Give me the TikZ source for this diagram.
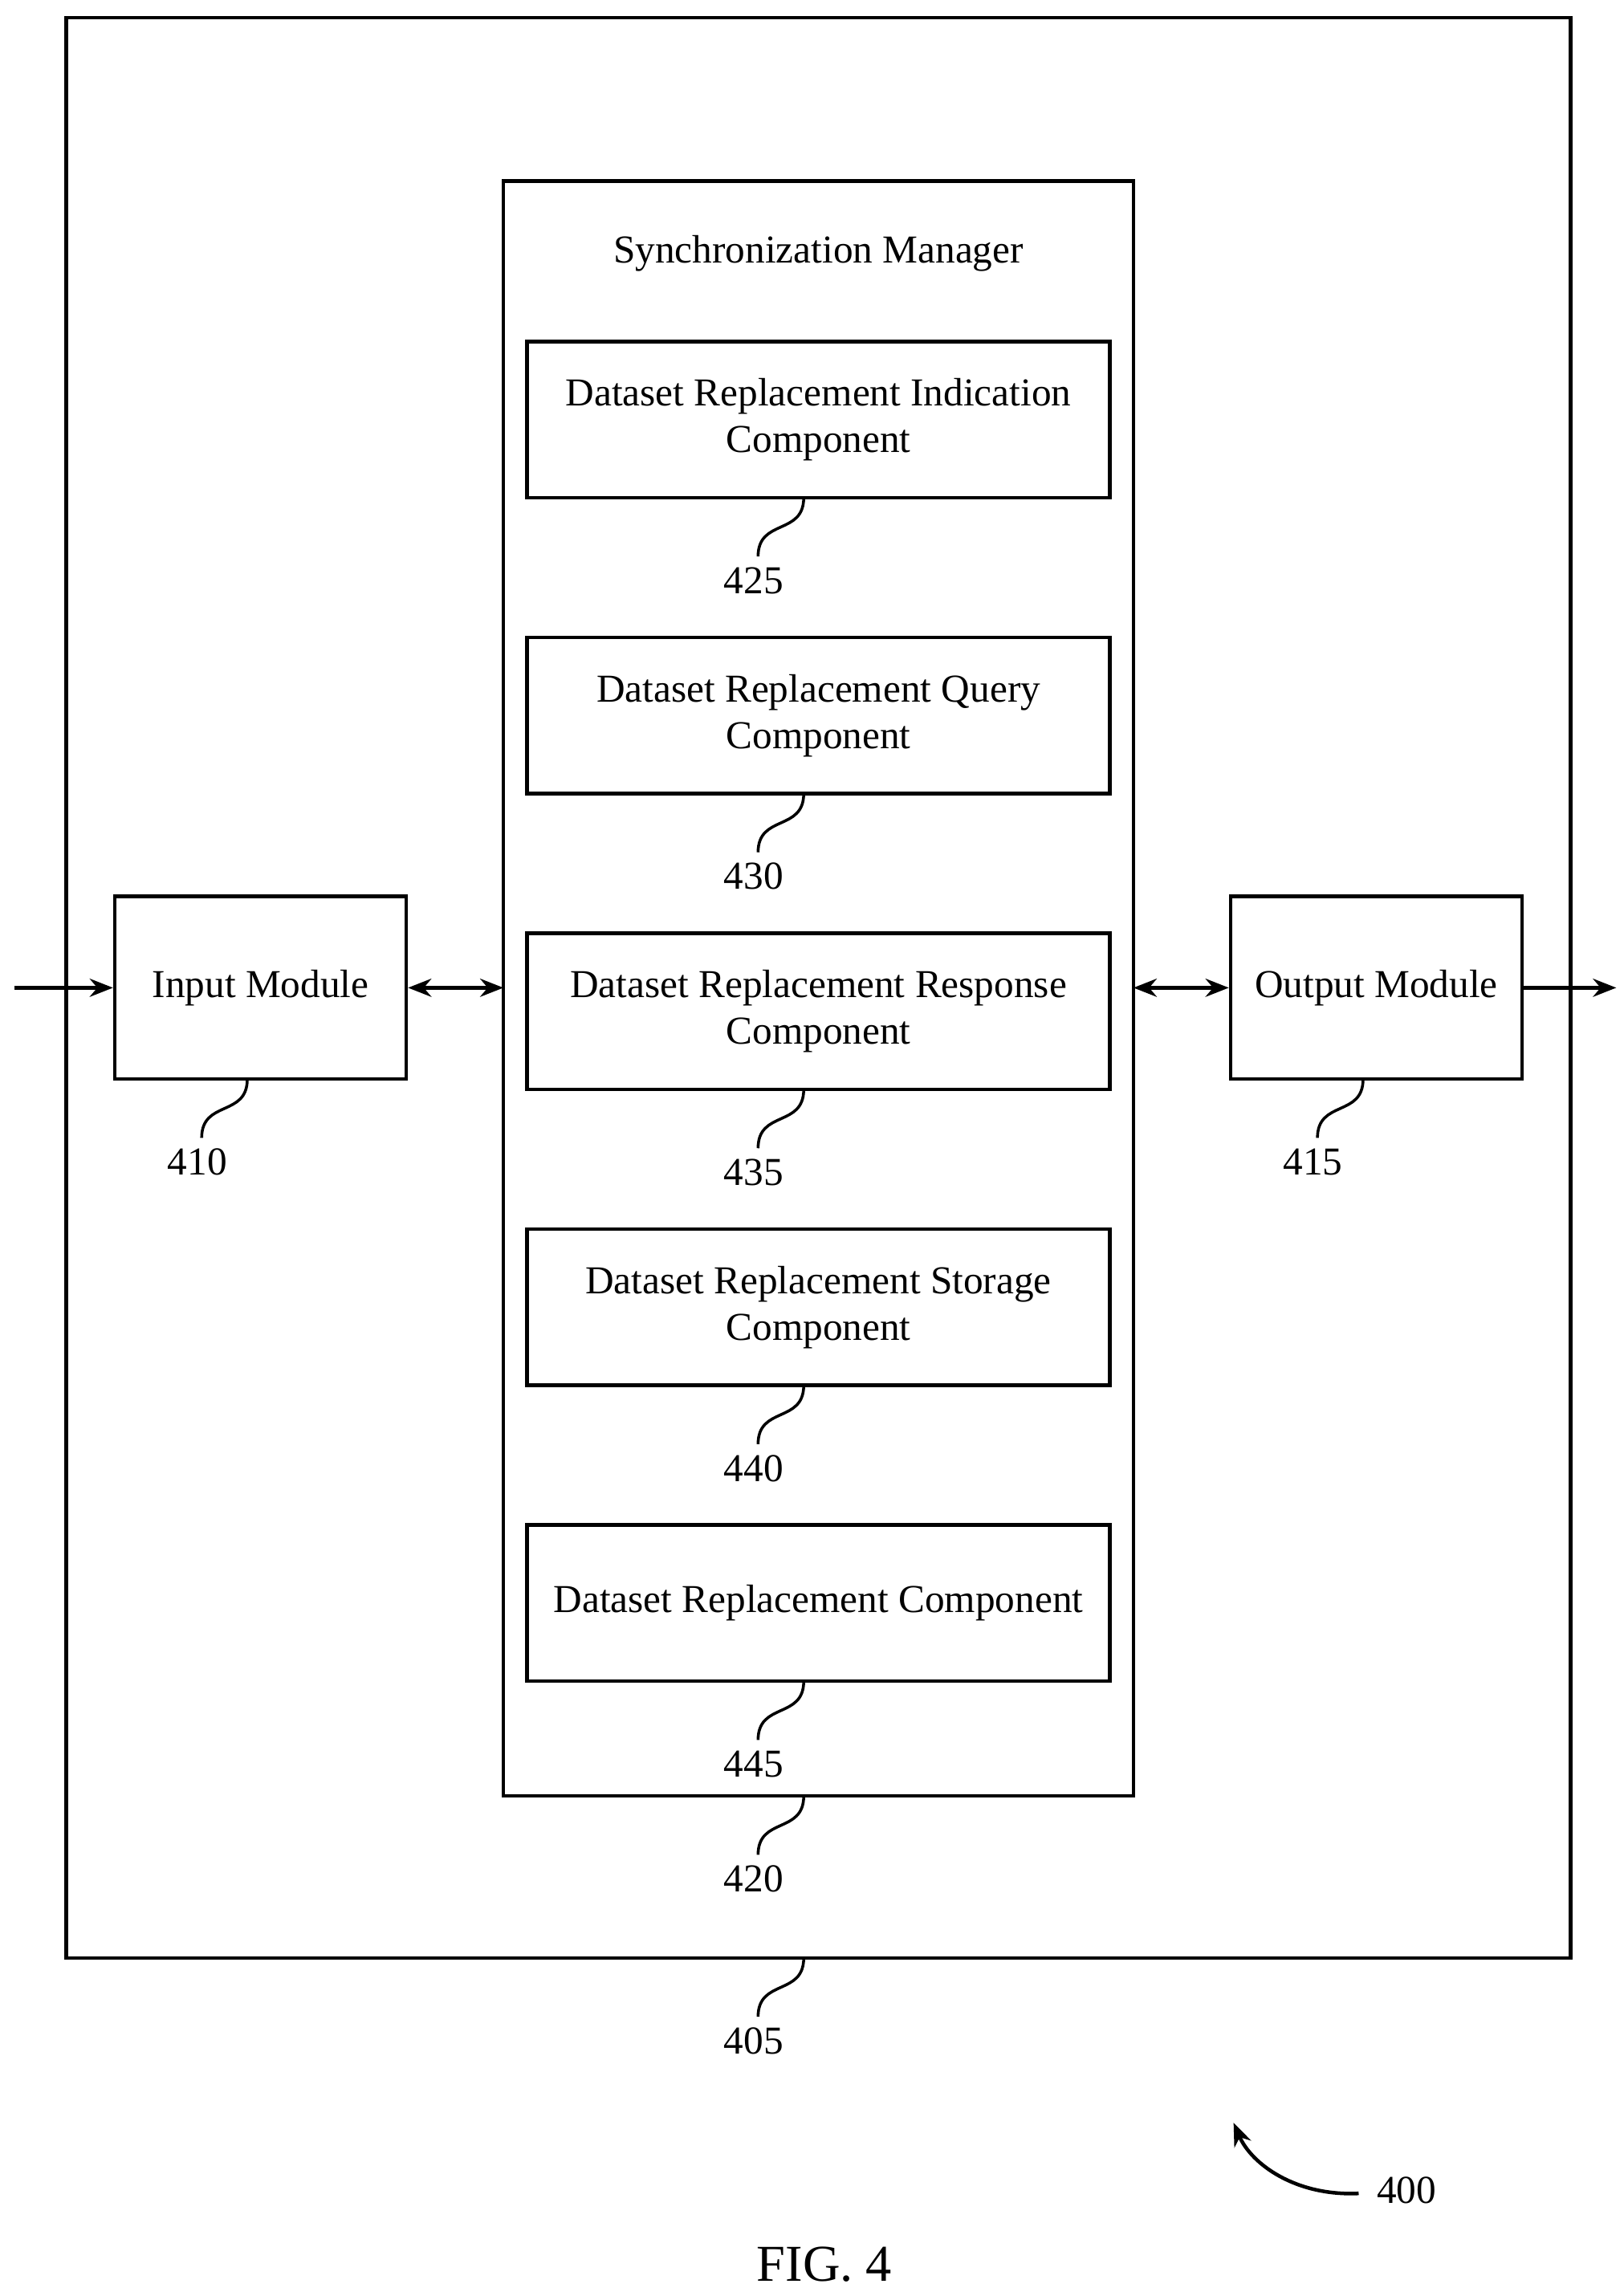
\documentclass[tikz,border=0pt]{standalone}
\usepackage{fontspec}
\setmainfont{Liberation Serif}
\usetikzlibrary{positioning,arrows.meta}
\tikzset{
  box/.style={draw,line width=1.4pt,inner sep=0pt},
  txt/.style={font=\fontsize{15.3}{18}\selectfont,align=center,inner sep=0pt},
  lead/.style={line width=1.1pt},
  link/.style={line width=1.4pt,>={Stealth[length=9pt,width=7pt]}}
}
\newcommand{\leadto}[3]{% start x, start y, label
  \draw[lead] (#1,#2) .. controls (#1,#2+26) and (#1-31,#2+14) .. (#1-31,#2+40);
  \node[txt,anchor=north] at (#1-34,#2+47) {#3};}
\begin{document}
\begin{tikzpicture}[x=0.02cm,y=-0.02cm]
	\useasboundingbox (0,0) rectangle (1103,1557);
	\draw[box] (45,12) rectangle (1067,1330);
	\draw[box] (342,123) rectangle (770,1220);
	\node[txt] (sm) at (556,172) {Synchronization Manager};
	% components
	\foreach \y/\t/\n in {232/{Dataset Replacement Indication\\Component}/425,
	                      433/{Dataset Replacement Query\\Component}/430,
	                      634/{Dataset Replacement Response\\Component}/435,
	                      835/{Dataset Replacement Storage\\Component}/440,
	                      1036/{Dataset Replacement Component}/445}{
		\draw[box] (358,\y) rectangle (754,\y+106);
		\node[txt] at (556,\y+53) {\t};
		\leadto{546}{\y+106}{\n}
	}
	% modules
	\node[box,txt,minimum width=3.96cm,minimum height=2.48cm] (in) at (177,671) {Input Module};
	\node[box,txt,minimum width=3.96cm,minimum height=2.48cm] (out) at (935,671) {Output Module};
	\coordinate (src) at (10,671);
	\coordinate (dst) at (1098,671);
	\coordinate (smL) at (342,671);
	\coordinate (smR) at (770,671);
	\draw[link,->] (src) -- (in);
	\draw[link,<->] (in) -- (smL);
	\draw[link,<->] (smR) -- (out);
	\draw[link,->] (out) -- (dst);
	\leadto{168}{733}{410}
	\leadto{926}{733}{415}
	\leadto{546}{1220}{420}
	\leadto{546}{1330}{405}
	% figure reference
	\node[txt,anchor=west] (ref) at (935,1488) {400};
	\draw[link,->] (ref.west) ++(-12,2) .. controls (880,1492) and (850,1470) .. (838,1442);
	\node[txt,font=\fontsize{20}{24}\selectfont] (fig) at (560,1538) {FIG. 4};
\end{tikzpicture}
\end{document}
